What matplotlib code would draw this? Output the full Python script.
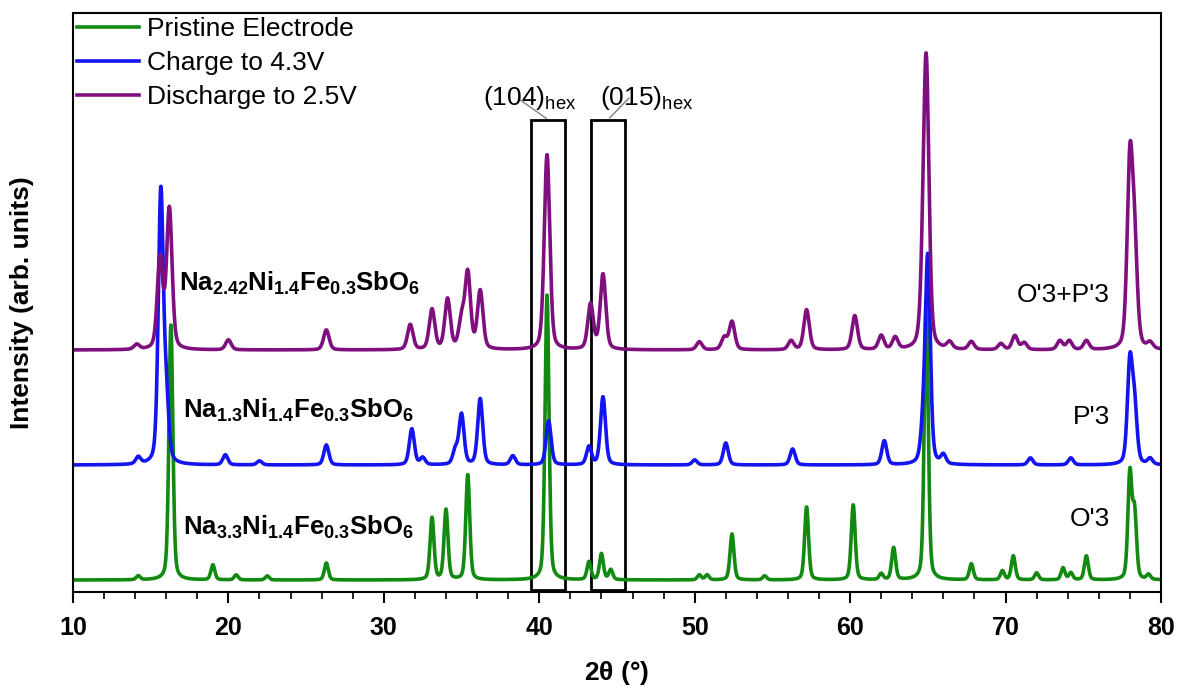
import matplotlib.pyplot as plt
import numpy as np
from matplotlib.ticker import MultipleLocator

plt.rcParams["font.family"] = ["Liberation Sans", "DejaVu Sans"]
plt.rcParams["mathtext.fontset"] = "custom"
plt.rcParams["mathtext.rm"] = "Liberation Sans"
plt.rcParams["mathtext.bf"] = "Liberation Sans:bold"
plt.rcParams["mathtext.it"] = "Liberation Sans:italic"

# peak lists: position (2theta), height, half width
green_pos = [14.2, 16.3, 19.0, 20.5, 22.5, 26.3, 33.1, 34.0, 35.4, 40.5, 43.2, 44.0, 44.6,
             50.3, 50.8, 52.4, 54.5, 57.2, 60.2, 62.0, 62.8, 64.9, 67.8, 69.8, 70.5,
             72.0, 73.7, 74.2, 75.2, 78.0, 78.3, 79.2]
green_h = [4, 255, 15, 5, 4, 17, 62, 70, 105, 285, 18, 26, 10,
           5, 5, 46, 4, 73, 75, 6, 32, 280, 16, 9, 24,
           7, 12, 7, 24, 105, 65, 5]
green_w = 0.15

blue_pos = [14.2, 15.65, 16.0, 19.8, 22.0, 26.3, 31.8, 32.5, 34.6, 35.0, 36.2, 38.3,
            40.6, 43.2, 44.1, 50.0, 52.0, 56.3, 62.2, 64.7, 65.0, 66.0, 71.6, 74.2,
            78.0, 78.3, 79.3]
blue_h = [7, 270, 60, 10, 4, 20, 36, 7, 14, 50, 66, 9,
          44, 18, 68, 5, 22, 16, 24, 30, 205, 9, 7, 7,
          100, 55, 6]
blue_w = 0.19

purple_pos = [14.1, 15.6, 16.2, 20.0, 26.3, 31.7, 33.1, 34.1, 35.0, 35.4, 36.2,
              40.5, 43.3, 44.1, 50.3, 51.9, 52.4, 56.2, 57.2, 60.3, 62.0, 62.9,
              64.7, 64.9, 66.4, 67.8, 69.7, 70.6, 71.2, 73.5, 74.1, 75.2, 78.0, 78.3, 79.3]
purple_h = [5, 90, 140, 10, 20, 25, 40, 50, 28, 75, 58,
            195, 45, 75, 8, 12, 28, 9, 40, 34, 14, 12,
            40, 275, 7, 8, 6, 14, 7, 9, 9, 9, 180, 95, 6]
purple_w = 0.21

offsets = [12, 127, 242]
labels = ["Pristine Electrode", "Charge to 4.3V", "Discharge to 2.5V"]
colors = ["#128a12", "#1414f0", "#7f0f7f"]

formulas = [r"$\mathbf{Na_{3.3}Ni_{1.4}Fe_{0.3}SbO_6}$",
            r"$\mathbf{Na_{1.3}Ni_{1.4}Fe_{0.3}SbO_6}$",
            r"$\mathbf{Na_{2.42}Ni_{1.4}Fe_{0.3}SbO_6}$"]
phases = ["O'3", "P'3", "O'3+P'3"]

x = np.linspace(10, 80, 7000)


def trace(pos, h, w, base):
    # pseudo-Voigt profiles on a flat baseline
    y = np.full_like(x, base, dtype=float)
    for p, a in zip(pos, h):
        d = (x - p) / w
        y += a * (0.35 / (1 + d ** 2) + 0.65 * np.exp(-np.log(2) * d ** 2))
    return y


fig = plt.figure(figsize=(11.79, 6.88), dpi=100)
ax = fig.add_axes([0.0619, 0.1395, 0.9228, 0.8416])

series = [(green_pos, green_h, green_w), (blue_pos, blue_h, blue_w),
          (purple_pos, purple_h, purple_w)]
for (pos, h, w), off, col, lab in zip(series, offsets, colors, labels):
    ax.plot(x, trace(pos, h, w, off), color=col, lw=2.6, label=lab)

# formula labels and phase labels
form_xy = [(17.1, 65), (17.1, 182), (16.8, 309)]
for (fx, fy), txt in zip(form_xy, formulas):
    ax.text(fx, fy, txt, fontsize=18.5, va="center", ha="left")
phase_y = [73, 175, 297]
for py, txt in zip(phase_y, phases):
    ax.text(76.7, py, txt, fontsize=19, va="center", ha="right")

# hexagonal reflection boxes
boxes = [(39.47, 41.66), (43.33, 45.52)]
for x0, x1 in boxes:
    ax.add_patch(plt.Rectangle((x0, 2), x1 - x0, 470, fill=False, ec="black", lw=2))
ax.annotate("", xy=(40.6, 472), xytext=(38.6, 494),
            arrowprops=dict(arrowstyle="-", color="grey", lw=1))
ax.annotate("", xy=(44.4, 472), xytext=(45.9, 496),
            arrowprops=dict(arrowstyle="-", color="grey", lw=1))
ax.text(36.4, 480, r"(104)$_\mathregular{hex}$", fontsize=19, va="bottom", ha="left")
ax.text(43.9, 480, r"(015)$_\mathregular{hex}$", fontsize=19, va="bottom", ha="left")

ax.set_xlim(10, 80)
ax.set_ylim(0, 579)
ax.xaxis.set_major_locator(MultipleLocator(10))
ax.xaxis.set_minor_locator(MultipleLocator(2))
ax.tick_params(axis="x", which="major", length=8, width=1.5, direction="out",
               labelsize=18, pad=9)
ax.tick_params(axis="x", which="minor", length=5, width=1.2, direction="out")
for lbl in ax.get_xticklabels():
    lbl.set_fontweight("bold")
ax.set_yticks([])
for s in ax.spines.values():
    s.set_linewidth(1.5)

ax.set_xlabel(r"2$\mathregular{\theta}$ (°)", fontsize=19, fontweight="bold", labelpad=14)
ax.set_ylabel("Intensity (arb. units)", fontsize=19, fontweight="bold", labelpad=28)

ax.legend(loc="upper left", frameon=False, fontsize=19, handlelength=2.35,
          labelspacing=0.38, borderaxespad=0.05, handletextpad=0.3, borderpad=0.1)

fig.savefig("out.png", dpi=100)
